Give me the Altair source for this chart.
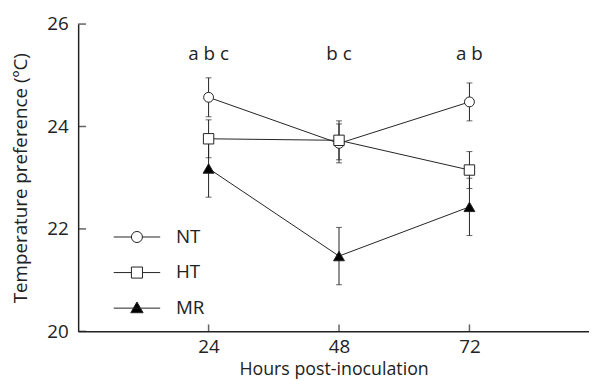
import altair as alt
import pandas as pd

hours = [24, 48, 72]
groups = ["NT", "HT", "MR"]
nt_mean = [24.57, 23.67, 24.48]
nt_err = [0.38, 0.38, 0.37]
ht_mean = [23.76, 23.73, 23.15]
ht_err = [0.37, 0.38, 0.36]
mr_mean = [23.18, 21.47, 22.43]
mr_err = [0.56, 0.56, 0.56]
letters = ["a b c", "b c", "a b"]
letter_y = 25.42
x_ticks = [24, 48, 72]
y_ticks = [20, 22, 24, 26]

rows = []
for g, m, e in [("NT", nt_mean, nt_err), ("HT", ht_mean, ht_err), ("MR", mr_mean, mr_err)]:
    for h, mv, ev in zip(hours, m, e):
        rows.append({"group": g, "hours": h, "mean": mv, "lo": mv - ev, "hi": mv + ev})
df = pd.DataFrame(rows)
df_letters = pd.DataFrame({"hours": hours, "label": letters, "y": [letter_y] * 3})
df_xt = pd.DataFrame({"t": x_ticks})
df_yt = pd.DataFrame({"t": y_ticks})

FONT = "Open Sans"
FS = 19
W, H = 517, 311
xs = alt.Scale(domain=[0, 94], nice=False, zero=False)
ys = alt.Scale(domain=[20, 26], nice=False, zero=False)

X = alt.X("hours:Q", scale=xs,
          axis=alt.Axis(values=x_ticks, ticks=False, grid=False, title="Hours post-inoculation",
                        labelPadding=6, titlePadding=5, titleFontSize=18))
Y = alt.Y("mean:Q", scale=ys,
          axis=alt.Axis(values=y_ticks, ticks=False, grid=False, title="Temperature preference (ºC)",
                        labelPadding=10, titlePadding=17))

base = alt.Chart(df)

lines = base.mark_line(color="#222", strokeWidth=1).encode(x=X, y=Y, detail="group:N")
bars = base.mark_rule(color="#222", strokeWidth=1).encode(x="hours:Q", y="lo:Q", y2="hi:Q")
cap_hi = base.mark_tick(color="#222", orient="horizontal", size=6, thickness=1).encode(x="hours:Q", y="hi:Q")
cap_lo = base.mark_tick(color="#222", orient="horizontal", size=6, thickness=1).encode(x="hours:Q", y="lo:Q")

points = base.mark_point(filled=True, stroke="#222", strokeWidth=1, opacity=1).encode(
    x="hours:Q", y="mean:Q",
    shape=alt.Shape("group:N", scale=alt.Scale(domain=groups, range=["circle", "square", "triangle-up"]), legend=None),
    fill=alt.Fill("group:N", scale=alt.Scale(domain=groups, range=["white", "white", "black"]), legend=None),
    size=alt.Size("group:N", scale=alt.Scale(domain=groups, range=[100, 121, 150]), legend=None),
)

p_nt = "M -2.94,0 L -0.7,0 M 0.7,0 L 2.94,0 M -0.7,0 A 0.7,0.7 0 1,1 0.7,0 A 0.7,0.7 0 1,1 -0.7,0 Z"
p_ht = "M -2.94,0 L -0.7,0 M 0.7,0 L 2.94,0 M -0.7,-0.7 L 0.7,-0.7 L 0.7,0.7 L -0.7,0.7 Z"
p_mr = "M -2.94,0 L 2.94,0 M -0.78,0.58 L 0,-0.78 L 0.78,0.58 Z"


def make_legend():
    return alt.Legend(
        title=None, orient="none", legendX=50, legendY=206,
        symbolSize=256, symbolStrokeWidth=1, symbolStrokeColor="#222",
        labelFont=FONT, labelFontSize=FS, labelColor="#222",
        labelOffset=30, rowPadding=16, padding=0,
    )


legend_layer = base.transform_filter("false").mark_point(filled=True, strokeWidth=1, opacity=1).encode(
    x="hours:Q", y="mean:Q",
    shape=alt.Shape("group:N", scale=alt.Scale(domain=groups, range=[p_nt, p_ht, p_mr]), legend=make_legend()),
    fill=alt.Fill("group:N", scale=alt.Scale(domain=groups, range=["white", "white", "black"]), legend=make_legend()),
    stroke=alt.Stroke("group:N", scale=alt.Scale(domain=groups, range=["#222", "#222", "#222"]), legend=make_legend()),
)

text = alt.Chart(df_letters).mark_text(font=FONT, fontSize=FS, color="#222").encode(
    x="hours:Q", y="y:Q", text="label:N")

xt = alt.Chart(df_xt).mark_tick(color="#222", orient="vertical", size=7, thickness=1.5).encode(
    x="t:Q", y=alt.value(H - 3.5))
yt = alt.Chart(df_yt).mark_tick(color="#222", orient="horizontal", size=8, thickness=1.5).encode(
    y="t:Q", x=alt.value(4))

chart = alt.layer(lines, bars, cap_hi, cap_lo, points, legend_layer, text, xt, yt).resolve_scale(
    shape="independent", fill="independent", size="independent", stroke="independent"
).properties(
    width=W, height=H,
    autosize=alt.AutoSizeParams(type="none"),
    padding={"left": 71, "top": 14, "right": 0, "bottom": 49},
).configure_view(stroke=None).configure_axis(
    domainColor="#222", domainWidth=1.5, labelFont=FONT, labelFontSize=FS, labelColor="#222",
    titleFont=FONT, titleFontSize=FS, titleFontWeight="normal", titleColor="#222",
)

chart.save("out.html", embed_options={"renderer": "svg", "actions": False})
